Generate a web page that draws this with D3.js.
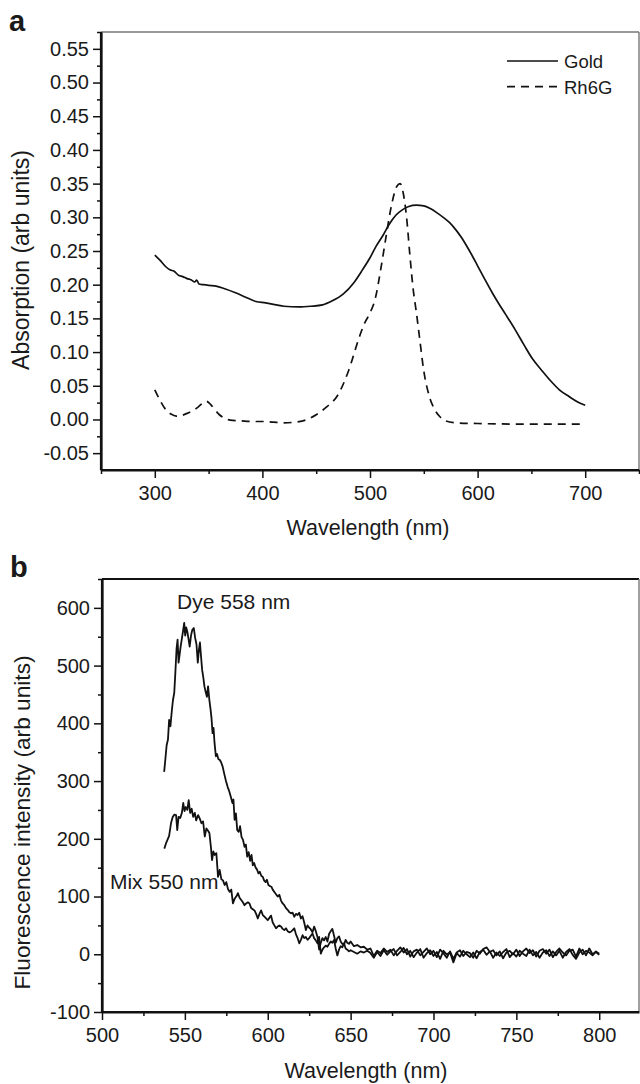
<!DOCTYPE html>
<html>
<head>
<meta charset="utf-8">
<script src="https://cdn.jsdelivr.net/npm/d3@7"></script>
<style>
  html, body { margin: 0; padding: 0; background: #fff; }
  svg text { font-family: "Liberation Sans", Arial, Helvetica, sans-serif; fill: #1a1a1a; }
</style>
</head>
<body>
<script>
// ---------- Panel a data ----------
const goldData = [
  [300,0.244],[305,0.236],[310,0.227],[314,0.222],[318,0.220],[322,0.214],[326,0.212],[330,0.209],
  [334,0.207],[337,0.204],[339,0.207],[341,0.201],[345,0.200],[350,0.199],[357,0.198],[365,0.194],
  [375,0.188],[385,0.181],[394,0.175],[403,0.173],[413,0.170],[420,0.168],[434,0.167],[445,0.168],
  [456,0.170],[465,0.176],[475,0.186],[485,0.203],[493,0.222],[500,0.240],[506,0.258],[512,0.273],
  [518,0.290],[524,0.303],[530,0.311],[536,0.316],[543,0.318],[550,0.317],[556,0.313],[562,0.307],
  [568,0.300],[574,0.292],[580,0.281],[585,0.270],[590,0.257],[595,0.243],[600,0.228],[606,0.210],
  [614,0.187],[620,0.171],[626,0.156],[635,0.133],[643,0.111],[651,0.090],[660,0.072],[668,0.057],
  [676,0.044],[685,0.034],[693,0.026],[700,0.021]
];
const rh6gData = [
  [300,0.044],[305,0.028],[310,0.015],[315,0.008],[320,0.005],[325,0.006],[330,0.009],[335,0.013],
  [340,0.018],[345,0.025],[348,0.027],[352,0.022],[356,0.014],[360,0.007],[365,0.002],[370,-0.001],
  [380,-0.002],[390,-0.003],[400,-0.003],[410,-0.004],[420,-0.005],[430,-0.004],[440,-0.001],[450,0.007],
  [460,0.019],[470,0.036],[480,0.072],[490,0.122],[495,0.143],[500,0.158],[505,0.180],[510,0.223],
  [515,0.272],[520,0.318],[525,0.346],[528,0.350],[531,0.335],[534,0.300],[537,0.245],[540,0.195],
  [543,0.160],[546,0.122],[550,0.072],[555,0.035],[560,0.015],[565,0.004],[570,-0.002],[580,-0.005],
  [600,-0.006],[650,-0.007],[700,-0.007]
];
const aYMajor = [-0.05,0,0.05,0.10,0.15,0.20,0.25,0.30,0.35,0.40,0.45,0.50,0.55];
const aYMinor = [-0.025,0.025,0.075,0.125,0.175,0.225,0.275,0.325,0.375,0.425,0.475,0.525,0.575];
const aXMajor = [300,400,500,600,700];
const aXMinor = [250,350,450,550,650,750];
const legendLabels = ["Gold","Rh6G"];

// ---------- Panel b data ----------
const dyeData = [
  [537.5,316],[538.3,340],[539,362],[539.8,372],[540.5,406],[541.3,395],[542,418],[542.8,440],[543.6,453],
  [544.3,490],[545,530],[545.6,545],[546.2,505],[546.8,518],[547.4,532],[548.1,545],[548.8,558],[549.6,574],
  [550.2,552],[550.8,566],[551.4,560],[552.1,548],[552.9,533],[553.7,552],[554.5,562],[555.4,565],[556.2,548],
  [557,537],[557.8,505],[558.5,528],[559.1,540],[559.7,518],[560.4,493],[561.1,480],[561.8,464],[562.5,455],
  [563.3,446],[564,464],[564.8,440],[565.5,424],[566.1,408],[566.7,383],[567.3,392],[567.9,366],[568.7,343],
  [569.4,347],[570.2,338],[571,337],[571.8,333],[572.8,325],[573.8,312],[574.8,300],[575.8,290],[576.8,282],
  [577.8,272],[578.7,262],[579.3,268],[580,233],[580.8,244],[581.6,215],[582.5,212],[583.3,222],[584.2,203],
  [585.1,198],[586,186],[586.8,190],[587.6,169],[588.5,177],[589.4,162],[590.2,172],[591,154],[591.8,158],
  [592.7,150],[593.5,147],[594.4,140],[595.2,143],[596.1,136],[597,134],[597.8,128],[598.7,125],[599.5,129],
  [600.4,120],[601.3,118],[602.2,117],[603,112],[604,108],[605,104],[606,100],[607,103],[608,93],[609,88],
  [610,85],[611,80],[612,77],[613,73],[614,71],[615,72],[616,65],[617,70],[618,68],[619,72],[620,62],
  [621,66],[622,55],[623,42],[624,50],[625,46],[626,43],[627,38],[628,48],[629,40],[630,30],[631,8],
  [632,20],[633,28],[634,24],[635,30],[636,22],[637,35],[638,40],[639,44],[640,32],[641,20],[642,28],
  [643,31],[644,22],[645,18],[646,16],[647,25],[648,20],[649,18],[650,22],[652,14],[654,16],[656,12],
  [658,13],[660,8],[662,10],[664,-3],[666,6],[668,2],[670,10],[672,4],[674,8],[676,-2],[678,6],[680,12],
  [682,3],[684,9],[686,-4],[688,5],[690,8],[692,-2],[694,4],[696,10],[698,0],[700,6],[702,-5],[704,8],
  [706,2],[708,-6],[710,5],[712,-8],[714,3],[716,7],[718,-3],[720,4],[722,2],[724,-6],[726,6],[728,1],
  [730,9],[732,12],[734,4],[736,7],[738,-2],[740,5],[742,-7],[744,3],[746,6],[748,0],[750,8],[752,-3],
  [754,5],[756,10],[758,2],[760,7],[762,-4],[764,6],[766,9],[768,1],[770,8],[772,-5],[774,4],[776,10],
  [778,3],[780,-2],[782,6],[784,8],[786,-4],[788,10],[790,0],[792,6],[794,3],[796,-2],[798,5],[800,1]
];
const mixData = [
  [537.6,183],[538.6,192],[539.5,198],[540.5,205],[541.7,228],[542.7,238],[543.7,242],[544.7,241],[545.4,215],
  [546.2,238],[547.2,236],[548.2,245],[549,262],[549.8,248],[550.6,255],[551.5,250],[552.3,267],[553.2,245],
  [554.1,252],[555,238],[556,245],[556.8,232],[558,241],[559,235],[560,227],[561,230],[562,204],[563,218],
  [564,214],[564.8,210],[565.7,186],[566.4,163],[567.2,178],[568,172],[569,175],[570,134],[571,146],
  [572,130],[573,128],[574,120],[575,125],[576,113],[577,108],[578,112],[579,88],[580,96],[581,100],
  [582,106],[583,98],[584,94],[585,90],[586,85],[587,88],[588,90],[589,88],[590,80],[591,78],[592,76],
  [593,70],[594,62],[595,70],[596,76],[597,68],[598,65],[599,62],[600,59],[601,63],[602,67],[603,55],
  [604,50],[605,45],[606,48],[607,50],[608,48],[609,44],[610,42],[611,45],[612,40],[613,38],[614,39],
  [615,42],[616,45],[617,35],[618,28],[619,19],[620,25],[621,33],[622,28],[623,30],[624,25],[625,28],
  [626,32],[627,36],[628,28],[629,24],[630,19],[631,30],[632,1],[633,8],[634,12],[635,15],[636,13],
  [637,18],[638,22],[639,20],[640,25],[641,10],[642,-2],[643,8],[644,14],[645,12],[646,19],[647,10],
  [648,8],[649,5],[650,7],[652,4],[654,1],[656,5],[658,3],[660,6],[662,2],[664,-6],[666,4],[668,-3],
  [670,7],[672,-1],[674,5],[676,9],[678,-2],[680,4],[682,11],[684,0],[686,6],[688,-5],[690,3],[692,9],
  [694,-6],[696,2],[698,7],[700,-3],[702,4],[704,-8],[706,6],[708,0],[710,3],[712,-14],[714,2],[716,-4],
  [718,6],[720,0],[722,-5],[724,3],[726,-7],[728,4],[730,8],[732,-1],[734,5],[736,-6],[738,3],[740,-3],
  [742,4],[744,9],[746,-5],[748,2],[750,-4],[752,6],[754,1],[756,-3],[758,8],[760,-2],[762,4],[764,-6],
  [766,3],[768,7],[770,-3],[772,5],[774,-2],[776,6],[778,-6],[780,4],[782,9],[784,-1],[786,-8],[788,3],
  [790,8],[792,-2],[794,10],[796,0],[798,4],[800,-1]
];
const bYMajor = [-100,0,100,200,300,400,500,600];
const bYMinor = [-50,50,150,250,350,450,550,650];
const bXMajor = [500,550,600,650,700,750,800];
const bXMinor = [525,575,625,675,725,775,825];
const dyeLabel = {text: "Dye 558 nm", x: 545.3, y: 598};
const mixLabel = {text: "Mix 550 nm", x: 504.8, y: 113};

// ---------- Drawing ----------
const W = 640, H = 1084;
const svg = d3.select("body").append("svg")
  .attr("width", W).attr("height", H)
  .attr("viewBox", `0 0 ${W} ${H}`);
svg.append("rect").attr("width", W).attr("height", H).attr("fill", "#fff");

const hy = s => s.replace("\u2212", "-");

function panel(opts) {
  const {left, top, right, bottom, xDom, yDom, xMajor, xMinor, yMajor, yMinor, yFmt} = opts;
  const x = d3.scaleLinear().domain(xDom).range([left, right]);
  const y = d3.scaleLinear().domain(yDom).range([bottom, top]);
  const g = svg.append("g");

  // top/right frame
  g.append("line").attr("x1", left).attr("x2", right).attr("y1", top).attr("y2", top)
    .attr("stroke", opts.topColor).attr("stroke-width", opts.topWidth);
  g.append("line").attr("x1", right).attr("x2", right).attr("y1", top).attr("y2", bottom)
    .attr("stroke", "#777").attr("stroke-width", 1.4);

  // minor ticks
  g.append("g").attr("transform", `translate(${left},0)`)
    .call(d3.axisLeft(y).tickValues(yMinor).tickSize(4).tickFormat(""))
    .call(s => s.select(".domain").remove());
  g.append("g").attr("transform", `translate(0,${bottom})`)
    .call(d3.axisBottom(x).tickValues(xMinor).tickSize(4).tickFormat(""))
    .call(s => s.select(".domain").remove());

  // major axes
  const ya = g.append("g").attr("transform", `translate(${left},0)`)
    .call(d3.axisLeft(y).tickValues(yMajor).tickSize(8).tickSizeOuter(0).tickPadding(4)
      .tickFormat(d => hy(yFmt(d))));
  const xa = g.append("g").attr("transform", `translate(0,${bottom})`)
    .call(d3.axisBottom(x).tickValues(xMajor).tickSize(8).tickSizeOuter(0).tickPadding(8)
      .tickFormat(d => String(d)));
  [ya, xa].forEach(a => {
    a.selectAll("text").style("font-size", "20px").attr("fill", "#1a1a1a");
    a.select(".domain").attr("stroke", "#111").attr("stroke-width", 2.2);
  });
  g.selectAll(".tick line").attr("stroke", "#111").attr("stroke-width", 1.5);
  // full-length axis lines
  g.append("line").attr("x1", left).attr("x2", left).attr("y1", top).attr("y2", bottom)
    .attr("stroke", "#111").attr("stroke-width", 2.2);
  g.append("line").attr("x1", left).attr("x2", right).attr("y1", bottom).attr("y2", bottom)
    .attr("stroke", "#111").attr("stroke-width", 2.2);
  return {x, y, g};
}

// Panel a
const A = panel({left: 101, top: 32, right: 639, bottom: 470,
  xDom: [250, 750], yDom: [-0.075, 0.575],
  xMajor: aXMajor, xMinor: aXMinor, yMajor: aYMajor, yMinor: aYMinor,
  yFmt: d3.format(".2f"), topColor: "#777", topWidth: 1.4});

const lineA = d3.line().x(d => A.x(d[0])).y(d => A.y(d[1])).curve(d3.curveMonotoneX);
A.g.append("path").datum(goldData).attr("d", lineA)
  .attr("fill", "none").attr("stroke", "#111").attr("stroke-width", 1.7);
A.g.append("path").datum(rh6gData).attr("d", lineA)
  .attr("fill", "none").attr("stroke", "#111").attr("stroke-width", 1.7)
  .attr("stroke-dasharray", "8,6");

// legend
const lg = A.g.append("g");
legendLabels.forEach((lab, i) => {
  const ly = 61 + i * 25.7;
  lg.append("line").attr("x1", 507).attr("x2", 558).attr("y1", ly).attr("y2", ly)
    .attr("stroke", "#111").attr("stroke-width", 1.7)
    .attr("stroke-dasharray", i === 0 ? null : "8,6");
  lg.append("text").attr("x", 564).attr("y", ly + 6.8).style("font-size", "18.5px").text(lab);
});

svg.append("text").attr("x", 9).attr("y", 31).style("font-size", "29px").style("font-weight", "bold").text("a");
svg.append("text").attr("x", 368).attr("y", 535).attr("text-anchor", "middle")
  .style("font-size", "21.5px").text("Wavelength (nm)");
svg.append("text").attr("transform", "translate(28.5,260) rotate(-90)").attr("text-anchor", "middle")
  .style("font-size", "23px").text("Absorption (arb units)");

// Panel b
const B = panel({left: 102, top: 579, right: 639, bottom: 1012,
  xDom: [500, 824], yDom: [-100, 650],
  xMajor: bXMajor, xMinor: bXMinor, yMajor: bYMajor, yMinor: bYMinor,
  yFmt: d3.format("d"), topColor: "#111", topWidth: 2.2});

const lineB = d3.line().x(d => B.x(d[0])).y(d => B.y(d[1]));
[dyeData, mixData].forEach(ds => {
  B.g.append("path").datum(ds).attr("d", lineB)
    .attr("fill", "none").attr("stroke", "#111").attr("stroke-width", 1.8)
    .attr("stroke-linejoin", "round");
});
[dyeLabel, mixLabel].forEach(l => {
  B.g.append("text").attr("x", B.x(l.x)).attr("y", B.y(l.y))
    .style("font-size", "21px").text(l.text);
});

svg.append("text").attr("x", 10).attr("y", 577).style("font-size", "29px").style("font-weight", "bold").text("b");
svg.append("text").attr("x", 366).attr("y", 1078).attr("text-anchor", "middle")
  .style("font-size", "21.5px").text("Wavelength (nm)");
svg.append("text").attr("transform", "translate(30,822.5) rotate(-90)").attr("text-anchor", "middle")
  .style("font-size", "22.7px").text("Fluorescence intensity (arb units)");
</script>
</body>
</html>
